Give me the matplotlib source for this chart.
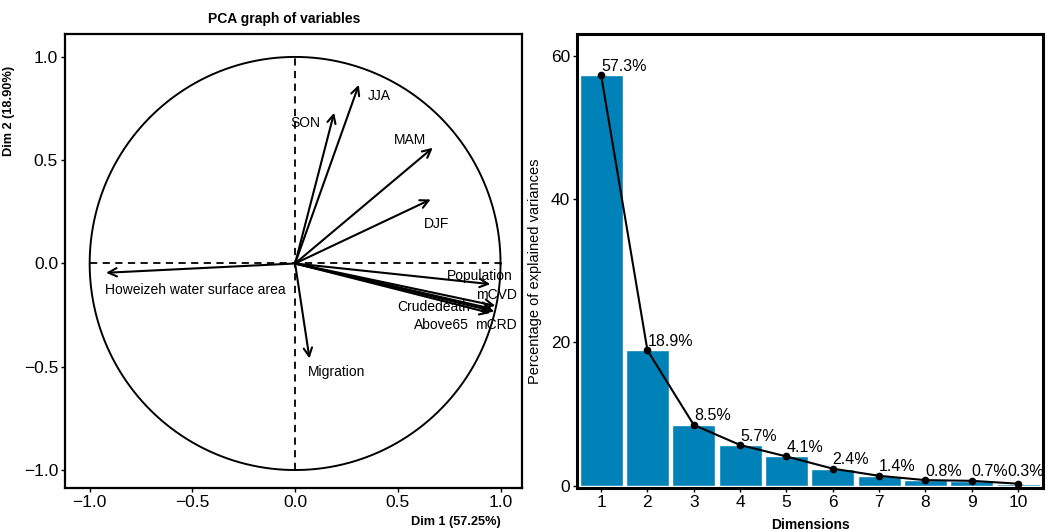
import numpy as np
import matplotlib.pyplot as plt

plt.rcParams['font.family'] = ['Liberation Sans', 'DejaVu Sans']

# ---------------- data ----------------
var_names = ["JJA", "SON", "MAM", "DJF", "Population", "mCVD", "Crudedeath",
             "Above65", "mCRD", "Howeizeh water surface area", "Migration"]
dim1 = [0.31, 0.19, 0.67, 0.66, 0.95, 0.975, 0.96, 0.95, 0.97, -0.92, 0.07]
dim2 = [0.865, 0.73, 0.56, 0.31, -0.10, -0.205, -0.22, -0.24, -0.232, -0.045, -0.46]

dims = np.arange(1, 11)
explained = [57.3, 18.9, 8.5, 5.7, 4.1, 2.4, 1.4, 0.8, 0.7, 0.3]

# text positions for the variable labels (data coords)
label_pos = {
    "JJA": (0.41, 0.81), "SON": (0.05, 0.68), "MAM": (0.56, 0.60),
    "DJF": (0.69, 0.19), "Population": (0.90, -0.06), "mCVD": (0.98, -0.155),
    "Crudedeath": (0.675, -0.21), "Above65": (0.71, -0.30), "mCRD": (0.975, -0.30),
    "Howeizeh water surface area": (-0.485, -0.13), "Migration": (0.20, -0.525),
}

fig = plt.figure(figsize=(10.52, 5.32), dpi=100)

# ---------------- left: correlation circle ----------------
ax1 = fig.add_axes([0.0618, 0.0827, 0.4345, 0.853])
t = np.linspace(0, 2 * np.pi, 400)
ax1.plot(np.cos(t), np.sin(t), color='black', lw=1.4)
ax1.plot([-1, 1], [0, 0], color='black', lw=1.3, ls=(0, (4, 3)))
ax1.plot([0, 0], [-1, 1], color='black', lw=1.3, ls=(0, (4, 3)))

for name, x, y in zip(var_names, dim1, dim2):
    ax1.annotate('', xy=(x, y), xytext=(0, 0),
                 arrowprops=dict(arrowstyle='->', lw=1.5, color='black',
                                 shrinkA=0, shrinkB=0, mutation_scale=15))
    lx, ly = label_pos[name]
    ax1.text(lx, ly, name, fontsize=10, ha='center', va='center')

ax1.set_xlim(-1.12, 1.105)
ax1.set_ylim(-1.087, 1.11)
ax1.set_xticks([-1.0, -0.5, 0.0, 0.5, 1.0])
ax1.set_yticks([-1.0, -0.5, 0.0, 0.5, 1.0])
ax1.set_xticklabels(['\u22121.0', '\u22120.5', '0.0', '0.5', '1.0'])
ax1.set_yticklabels(['\u22121.0', '\u22120.5', '0.0', '0.5', '1.0'])
ax1.tick_params(labelsize=12.5, direction='out', length=3, width=1, pad=2)
for sp in ax1.spines.values():
    sp.set_linewidth(1.6)
ax1.set_title("PCA graph of variables", fontsize=10, fontweight='bold', pad=8, x=0.48)
ax1.set_xlabel("Dim 1 (57.25%)", fontsize=9.2, fontweight='bold')
ax1.xaxis.set_label_coords(0.855, -0.062)
ax1.set_ylabel("Dim 2 (18.90%)", fontsize=9.2, fontweight='bold')
ax1.yaxis.set_label_coords(-0.11, 0.83)

# ---------------- right: scree plot ----------------
ax2 = fig.add_axes([0.5485, 0.0827, 0.443, 0.853])
ax2.bar(dims, explained, width=0.93, color='#0082B8', edgecolor='white', linewidth=1.0)
ax2.plot(dims, explained, color='black', lw=1.5, marker='o', markersize=4.5)
for d, v in zip(dims, explained):
    if d == dims[-1]:
        # nudged left like the repelled label in the original
        ax2.text(d - 0.22, v + 0.6, f"{v:.1f}%", fontsize=11.5, ha='left', va='bottom')
    else:
        ax2.text(d, v + 0.2, f"{v:.1f}%", fontsize=11.5, ha='left', va='bottom')
ax2.set_xlim(0.48, 10.54)
ax2.set_ylim(-0.3, 63)
ax2.set_xticks(dims)
ax2.set_yticks([0, 20, 40, 60])
ax2.tick_params(labelsize=12.5, direction='out', length=3, width=1, pad=2)
for sp in ax2.spines.values():
    sp.set_linewidth(2.2)
ax2.set_xlabel("Dimensions", fontsize=10, fontweight='bold', labelpad=6)
ax2.set_ylabel("Percentage of explained variances", fontsize=10.5)
ax2.yaxis.set_label_coords(-0.075, 0.478)

fig.savefig("out.png", dpi=100)
